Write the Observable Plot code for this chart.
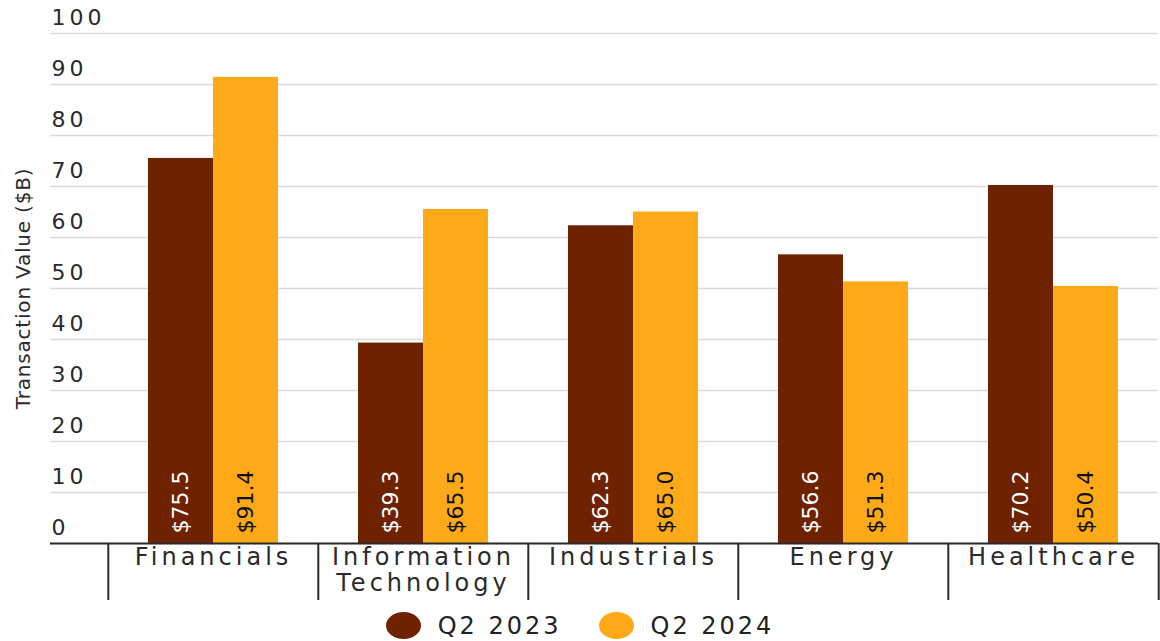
<!DOCTYPE html>
<html>
<head>
<meta charset="utf-8">
<script src="https://cdn.jsdelivr.net/npm/d3@7"></script>
<script src="https://cdn.jsdelivr.net/npm/@observablehq/plot@0.6"></script>
<style>
  html, body { margin: 0; padding: 0; background: #fff; }
  body { font-family: "DejaVu Sans", sans-serif; color: #222; }
  #chart g[aria-label="y-axis tick label"] text { font-size: 22px; letter-spacing: 4px; }
  #chart g[aria-label="fx-axis tick label"] text { letter-spacing: 4px; }
  #chart g[aria-label="y-axis label"] text { font-size: 20px; letter-spacing: 0.8px; }
  #legend {
    display: flex; justify-content: center; align-items: center;
    height: 31px; gap: 37px; font-size: 24px; letter-spacing: 3px;
  }
  #legend .item { display: flex; align-items: center; gap: 17px; }
  #legend .dot { width: 35px; height: 27px; border-radius: 50%; display: inline-block; }
</style>
</head>
<body>
<div id="chart"></div>
<div id="legend"></div>
<script>
// Sector categories (line break splits the long axis label)
const sectors = ["Financials", "Information\nTechnology", "Industrials", "Energy", "Healthcare"];
// Quarters compared
const periods = ["Q2 2023", "Q2 2024"];
// Transaction value in $B per sector
const q2_2023 = [75.5, 39.3, 62.3, 56.6, 70.2];
const q2_2024 = [91.4, 65.5, 65.0, 51.3, 50.4];
// Y axis ticks
const yTicks = [0, 10, 20, 30, 40, 50, 60, 70, 80, 90, 100];
const periodColors = ["#6e2200", "#fea918"];

const data = sectors.flatMap((s, i) => [
  {sector: s, period: periods[0], value: q2_2023[i]},
  {sector: s, period: periods[1], value: q2_2024[i]}
]);

const W = 1160, H = 610;
const mL = 107, mR = 1, mT = 33, mB = 67;
const gridLeft = 49;
const step = (W - mL - mR) / sectors.length;
const grid = "#d9d9d9", ink = "#2a2a2a";

const chart = Plot.plot({
  width: W, height: H,
  marginLeft: mL, marginRight: mR, marginTop: mT, marginBottom: mB,
  style: {fontFamily: "DejaVu Sans, sans-serif", background: "#fff", color: ink},
  fx: {domain: sectors, padding: 0},
  x: {domain: periods, paddingInner: 0, paddingOuter: 0.594, axis: null},
  y: {domain: [0, 100]},
  color: {domain: periods, range: periodColors},
  marks: [
    // horizontal grid inside the plot area
    Plot.gridY(yTicks, {stroke: grid, strokeOpacity: 1, strokeWidth: 1.6}),
    // grid continues to the left under the tick labels
    Plot.axisY(yTicks, {tickSize: mL - gridLeft, text: null, stroke: grid, strokeWidth: 1.6, label: null}),
    // tick labels sit above their grid line, flush left
    Plot.axisY(yTicks, {tickSize: 0, tickPadding: mL - gridLeft - 1, textAnchor: "start", dy: -16,
      fontSize: 22, fill: ink, label: null}),
    // axis title
    Plot.axisY({ticks: [], tickSize: 0, text: null, label: "Transaction Value ($B)",
      labelAnchor: "center", labelOffset: mL - 14, labelArrow: "none", fill: ink}),
    Plot.barY(data, {fx: "sector", x: "period", y: "value", fill: "period"}),
    // value labels running up from the base of each bar
    Plot.text(data, {
      fx: "sector", x: "period", y: 0,
      text: d => "$" + d.value.toFixed(1),
      rotate: -90, textAnchor: "start", dy: -10,
      fontSize: 22,
      fill: d => d.period === periods[0] ? "#ffffff" : "#111111"
    }),
    // baseline
    Plot.ruleY([0], {stroke: ink, strokeWidth: 2}),
    Plot.axisY([0], {tickSize: mL - gridLeft, text: null, stroke: ink, strokeWidth: 2, label: null}),
    // sector names
    Plot.axisFx({anchor: "bottom", tickSize: 0, tickPadding: 4, fontSize: 24, lineHeight: 1.05,
      fill: ink, label: null}),
    // separators between sectors below the baseline
    Plot.axisFx({anchor: "bottom", text: null, tickSize: 57, dx: -step / 2, stroke: ink, strokeWidth: 2, label: null}),
    Plot.axisFx({anchor: "bottom", ticks: [sectors[sectors.length - 1]], text: null, tickSize: 57,
      dx: step / 2, stroke: ink, strokeWidth: 2, label: null})
  ]
});
document.getElementById("chart").appendChild(chart);

// legend
const legend = document.getElementById("legend");
periods.forEach((p, i) => {
  const item = document.createElement("span");
  item.className = "item";
  const dot = document.createElement("span");
  dot.className = "dot";
  dot.style.background = periodColors[i];
  const label = document.createElement("span");
  label.textContent = p;
  item.append(dot, label);
  legend.appendChild(item);
});
</script>
</body>
</html>
